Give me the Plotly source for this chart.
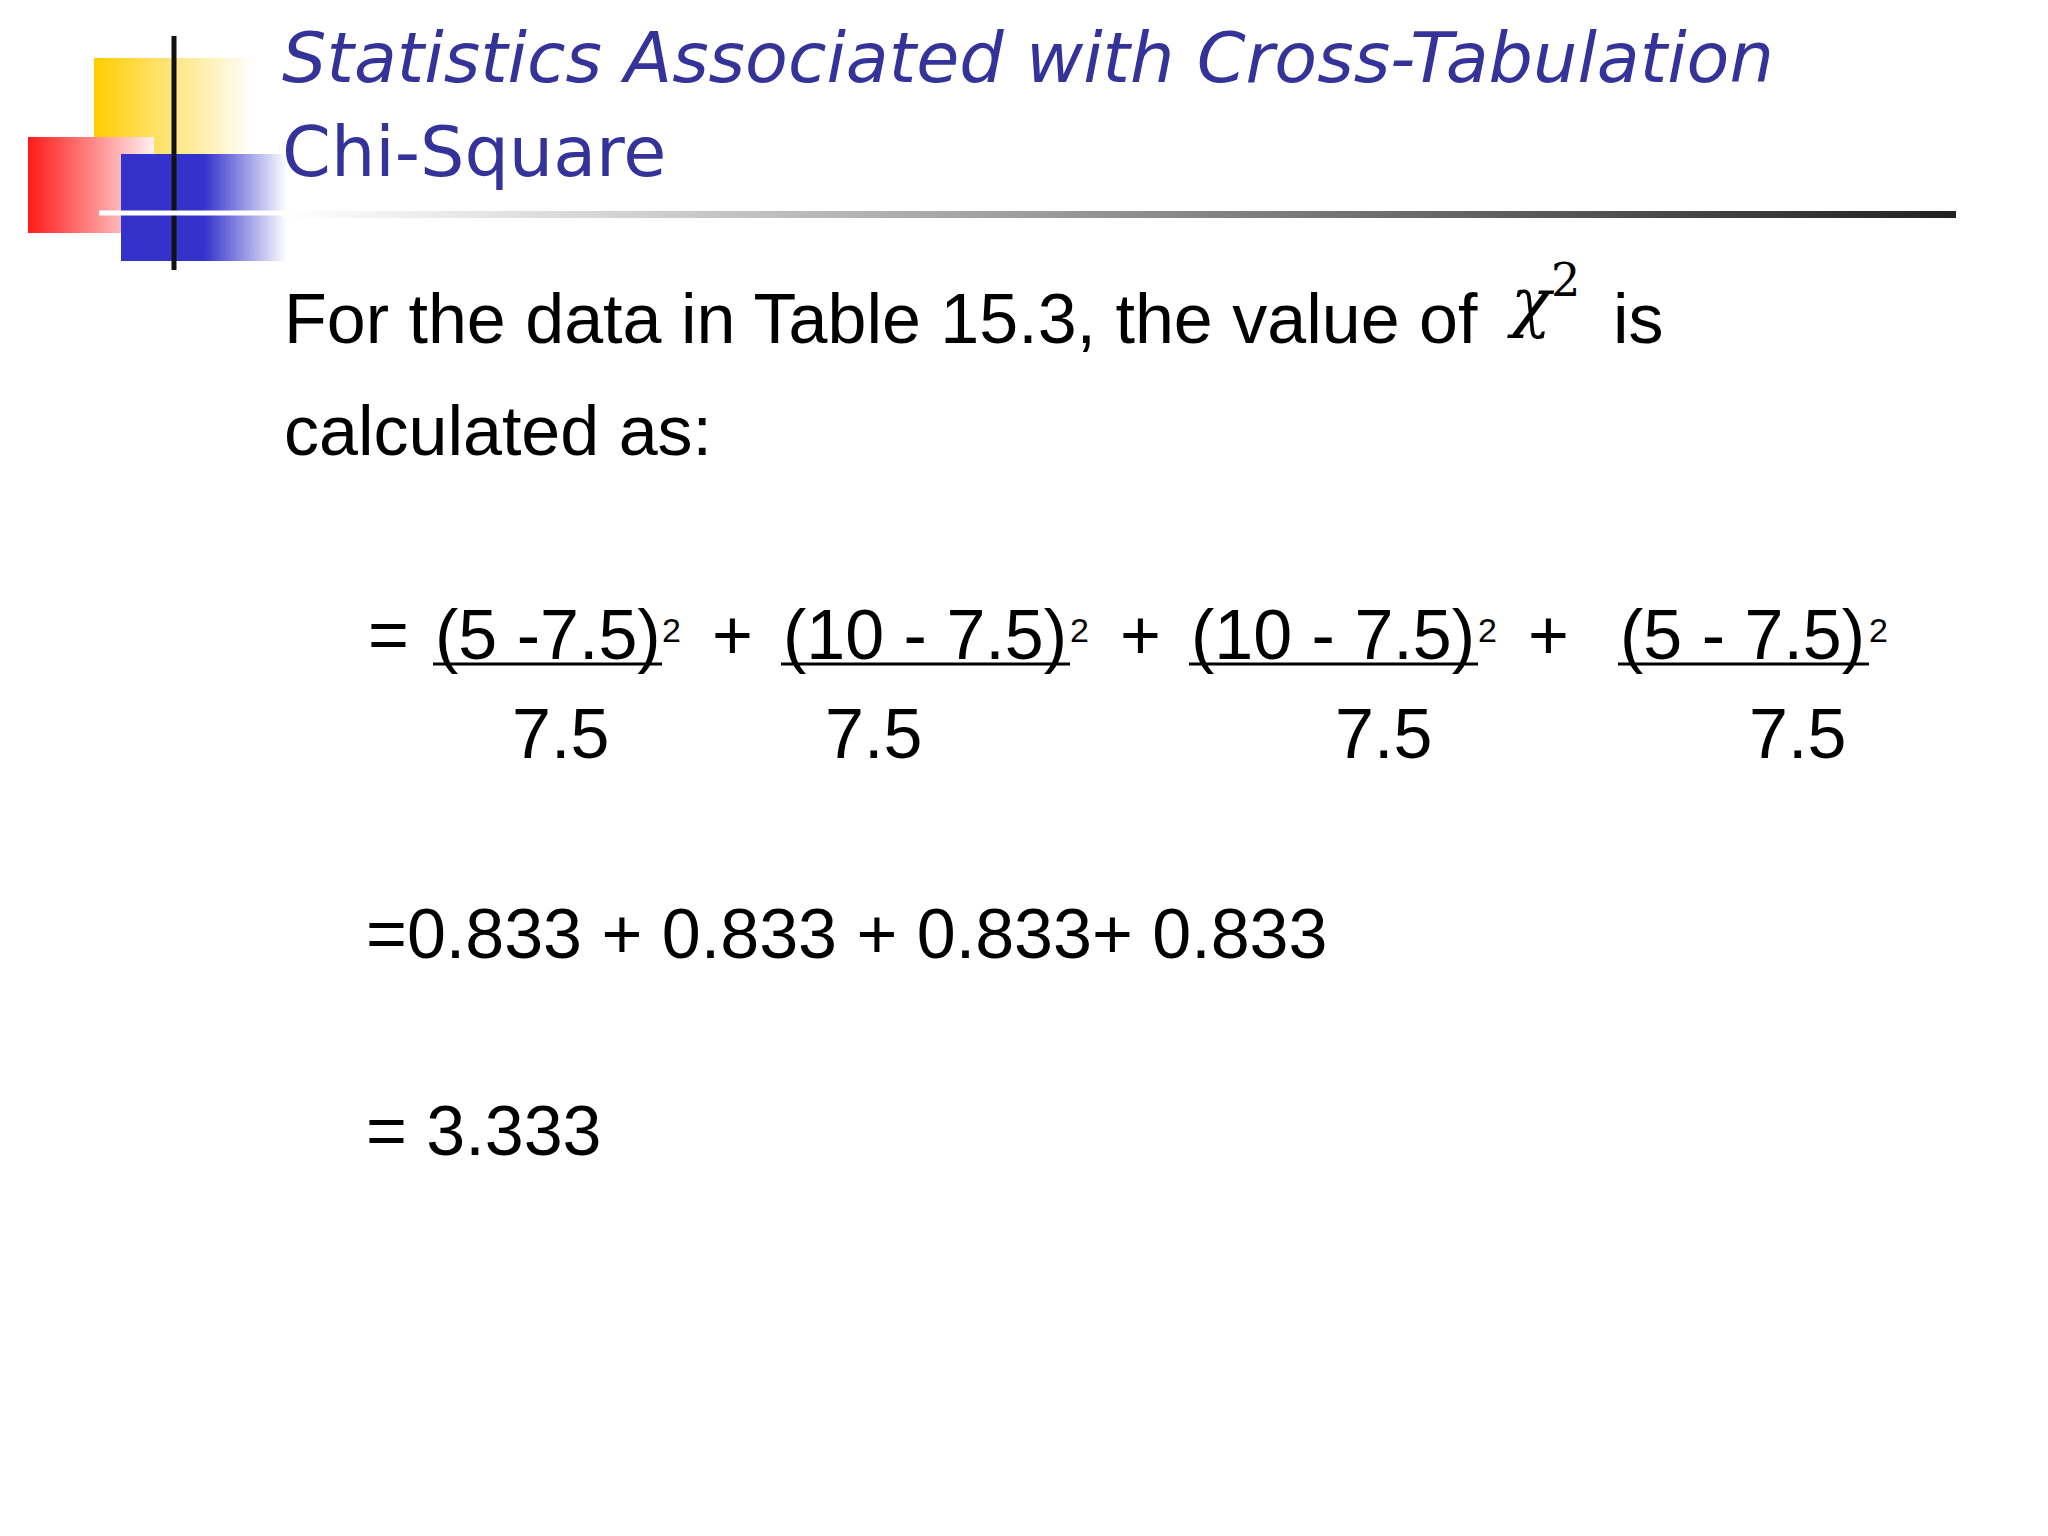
import plotly.graph_objects as go

W, H = 2048, 1536
TITLE_COLOR = "#333399"
BODY = "Liberation Sans"

title_lines = ["Statistics Associated with Cross-Tabulation", "Chi-Square"]
intro = ["For the data in Table 15.3, the value of", "is", "calculated as:"]
numerators = ["(5 -7.5)", "(10 - 7.5)", "(10 - 7.5)", "(5 - 7.5)"]
num_x = [425, 773, 1181, 1610]
num_end = [654, 1062, 1470, 1861]
denominators = ["7.5", "7.5", "7.5", "7.5"]
den_x = [552, 865, 1375, 1789]
plus_x = [724, 1132, 1540]
terms = ["0.833", "0.833", "0.833", "0.833"]
total = "3.333"

fig = go.Figure()


def grad_box(x0, x1, y0, y1, c0, c1):
    fig.add_trace(go.Scatter(
        x=[x0, x1, x1, x0, x0], y=[y0, y0, y1, y1, y0], mode="lines",
        line=dict(width=0), fill="toself",
        fillgradient=dict(type="horizontal", colorscale=[[0, c0], [1, c1]]),
        hoverinfo="skip", showlegend=False))


# corner decoration
grad_box(86, 245, 50, 146, "#ffcc00", "#ffffff")
fig.add_shape(type="rect", x0=86, x1=169, y0=50, y1=146, fillcolor="#ffcc00", line_width=0, layer="below")
grad_box(20, 146, 129, 225, "#ff1a1a", "#fff0f0")
grad_box(196, 279, 146, 253, "#3333cc", "#ffffff")
fig.add_shape(type="rect", x0=113, x1=196, y0=146, y1=253, fillcolor="#3333cc", line_width=0)
fig.add_shape(type="line", x0=166, x1=166, y0=28, y1=262, line=dict(color="#111111", width=5))
fig.add_shape(type="line", x0=91, x1=274, y0=205, y1=205, line=dict(color="#ffffff", width=5))
grad_box(274, 1948, 203, 210, "#ffffff", "#222222")

# title
fig.add_annotation(x=272, y=50, text="<i>" + title_lines[0] + "</i>", xanchor="left", yanchor="middle",
                   showarrow=False, font=dict(family="DejaVu Sans", size=70, color=TITLE_COLOR))
fig.add_annotation(x=272, y=144, text=title_lines[1], xanchor="left", yanchor="middle",
                   showarrow=False, font=dict(family="DejaVu Sans", size=70, color=TITLE_COLOR))

body = dict(family=BODY, size=70, color="#000000")


def txt(x, y, s, anchor="left", font=body):
    fig.add_annotation(x=x, y=y, text=s, xanchor=anchor, yanchor="middle", showarrow=False, font=font)


txt(274, 311, intro[0])
txt(1497, 288, "<i>χ</i><sup>2</sup>", font=dict(family="DejaVu Serif", size=66, color="#000000"))
txt(1603, 311, intro[1])
txt(274, 423, intro[2])

# fraction row
txt(358, 627, "=")
for i, s in enumerate(numerators):
    txt(num_x[i], 627, s)
    txt(num_end[i] - 2, 622, "2", font=dict(family=BODY, size=34, color="#000000"))
    fig.add_shape(type="line", x0=num_x[i], x1=num_end[i], y0=656, y1=656,
                  line=dict(color="#000000", width=3))
for x in plus_x:
    txt(x, 627, "+", anchor="center")
for i, s in enumerate(denominators):
    txt(den_x[i], 726, s, anchor="center")

txt(356, 926, "=" + " + ".join(terms[:3]) + "+ " + terms[3])
txt(356, 1123, "= " + total)

fig.update_xaxes(range=[0, W], visible=False, domain=[0, 1])
fig.update_yaxes(range=[H, 0], visible=False, domain=[0, 1])
fig.update_layout(width=W, height=H, margin=dict(l=0, r=0, t=0, b=0),
                  plot_bgcolor="white", paper_bgcolor="white", showlegend=False)
fig.write_html("out.html")
